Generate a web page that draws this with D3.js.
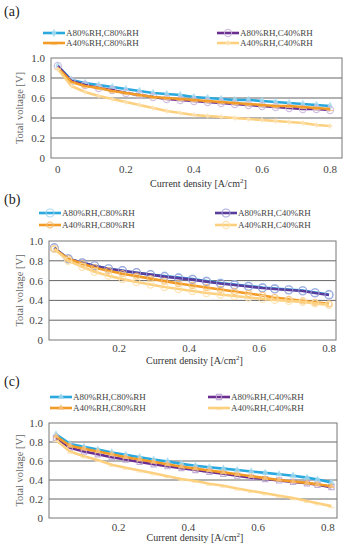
<!DOCTYPE html>
<html>
<head>
<meta charset="utf-8">
<script src="https://cdn.jsdelivr.net/npm/d3@7"></script>
<style>
  body { margin: 0; background: #fff; }
  svg text { font-family: "Liberation Serif", "DejaVu Serif", serif !important; }
</style>
</head>
<body>
<div id="chart"></div>
<script>
// series names (legend order: row1 left, row1 right, row2 left, row2 right)
var seriesNames = ["A80%RH,C80%RH", "A80%RH,C40%RH", "A40%RH,C80%RH", "A40%RH,C40%RH"];
var yTicks = [0, 0.2, 0.4, 0.6, 0.8, 1.0];
var xTicks = [0, 0.2, 0.4, 0.6, 0.8];

// panel (a)
var xA = [0, 0.04, 0.08, 0.12, 0.16, 0.2, 0.24, 0.28, 0.32, 0.36, 0.4, 0.44, 0.48, 0.52, 0.56, 0.6, 0.64, 0.68, 0.72, 0.76, 0.8];
var aBlue = [0.92, 0.78, 0.75, 0.73, 0.71, 0.69, 0.67, 0.65, 0.64, 0.63, 0.61, 0.60, 0.59, 0.58, 0.58, 0.57, 0.56, 0.55, 0.54, 0.53, 0.52];
var aPurple = [0.92, 0.77, 0.73, 0.70, 0.68, 0.65, 0.63, 0.61, 0.59, 0.58, 0.57, 0.56, 0.55, 0.54, 0.53, 0.52, 0.51, 0.50, 0.49, 0.49, 0.48];
var aOrange = [0.90, 0.76, 0.72, 0.70, 0.67, 0.65, 0.63, 0.61, 0.60, 0.59, 0.58, 0.57, 0.56, 0.55, 0.54, 0.53, 0.52, 0.52, 0.51, 0.50, 0.49];
var aYellow = [0.89, 0.72, 0.66, 0.62, 0.59, 0.56, 0.53, 0.50, 0.47, 0.45, 0.43, 0.42, 0.41, 0.40, 0.39, 0.38, 0.37, 0.36, 0.35, 0.33, 0.32];

// panel (b)
var xB = [0.015, 0.055, 0.095, 0.13, 0.17, 0.21, 0.25, 0.29, 0.33, 0.37, 0.41, 0.45, 0.49, 0.53, 0.57, 0.61, 0.645, 0.685, 0.725, 0.76, 0.80];
var bBlue = [0.93, 0.82, 0.78, 0.75, 0.72, 0.70, 0.68, 0.66, 0.645, 0.63, 0.615, 0.595, 0.575, 0.56, 0.545, 0.53, 0.52, 0.51, 0.50, 0.48, 0.46];
var bPurple = [0.93, 0.82, 0.78, 0.75, 0.72, 0.70, 0.68, 0.66, 0.64, 0.625, 0.61, 0.59, 0.57, 0.555, 0.54, 0.525, 0.515, 0.505, 0.495, 0.475, 0.455];
var bOrange = [0.92, 0.82, 0.77, 0.73, 0.70, 0.67, 0.645, 0.62, 0.595, 0.57, 0.55, 0.53, 0.51, 0.49, 0.47, 0.45, 0.43, 0.41, 0.395, 0.38, 0.365];
var bYellow = [0.92, 0.80, 0.74, 0.69, 0.65, 0.615, 0.585, 0.56, 0.535, 0.515, 0.495, 0.475, 0.46, 0.445, 0.43, 0.415, 0.405, 0.395, 0.385, 0.37, 0.355];

// panel (c)
var xC = [0.02, 0.06, 0.10, 0.14, 0.18, 0.22, 0.26, 0.30, 0.34, 0.38, 0.42, 0.46, 0.50, 0.54, 0.58, 0.62, 0.66, 0.70, 0.74, 0.77, 0.81];
var cBlue = [0.88, 0.78, 0.75, 0.72, 0.69, 0.665, 0.64, 0.615, 0.595, 0.57, 0.55, 0.535, 0.52, 0.505, 0.49, 0.475, 0.46, 0.445, 0.425, 0.405, 0.375];
var cPurple = [0.84, 0.74, 0.70, 0.67, 0.64, 0.615, 0.59, 0.565, 0.545, 0.525, 0.505, 0.485, 0.465, 0.445, 0.425, 0.41, 0.395, 0.38, 0.365, 0.35, 0.325];
var cOrange = [0.86, 0.76, 0.73, 0.70, 0.67, 0.64, 0.615, 0.59, 0.565, 0.54, 0.52, 0.50, 0.48, 0.46, 0.44, 0.42, 0.40, 0.385, 0.37, 0.355, 0.335];
var cYellow = [0.82, 0.70, 0.65, 0.61, 0.56, 0.53, 0.50, 0.47, 0.44, 0.41, 0.39, 0.36, 0.34, 0.31, 0.285, 0.26, 0.235, 0.21, 0.18, 0.155, 0.125];

var FONT = "Liberation Serif, DejaVu Serif, serif";

var svg = d3.select("#chart").append("svg")
    .attr("width", 345)
    .attr("height", 550)
    .attr("font-family", FONT);

svg.append("rect").attr("width", 345).attr("height", 550).attr("fill", "#fff");

// line colours
var colBlue = "#2aa9de", colOrange = "#f29b26", colYellow = "#fcd07e";

var panels = [
    {
        label: "(a)", labelY: 16,
        x: xA, series: [aBlue, aPurple, aOrange, aYellow],
        colors: [colBlue, "#6b2d90", colOrange, colYellow],
        markers: [
            {type: d3.symbolDiamond, size: 22, fill: "#a6dcf2", stroke: "none"},
            {type: d3.symbolCircle, size: 40, fill: "none", stroke: "#c9b6dd"},
            {type: "dash", size: 6, fill: "none", stroke: "#f7c27a"},
            {type: d3.symbolCross, size: 14, fill: "#fde3b4", stroke: "none"}
        ],
        box: {left: 51, right: 342, top: 58, bottom: 158},
        xDomain: [-0.02, 0.835], xZero: true,
        legendY: [33, 43], legendX: [43, 217],
        xLabelY: 173, xTitleY: 187
    },
    {
        label: "(b)", labelY: 204,
        x: xB, series: [bBlue, bPurple, bOrange, bYellow],
        colors: [colBlue, "#5a3c9c", colOrange, colYellow],
        markers: [
            {type: d3.symbolCircle, size: 50, fill: "none", stroke: "#9fd2ee"},
            {type: d3.symbolCircle, size: 50, fill: "none", stroke: "#9c9cd8"},
            {type: d3.symbolCircle, size: 30, fill: "none", stroke: "#f5bf78"},
            {type: d3.symbolCircle, size: 40, fill: "none", stroke: "#fde0a8"}
        ],
        box: {left: 49, right: 336, top: 241, bottom: 340},
        xDomain: [0, 0.82], xZero: false,
        legendY: [213, 225], legendX: [39, 215],
        xLabelY: 352, xTitleY: 364
    },
    {
        label: "(c)", labelY: 386,
        x: xC, series: [cBlue, cPurple, cOrange, cYellow],
        colors: [colBlue, "#6b2d90", colOrange, colYellow],
        markers: [
            {type: d3.symbolTriangle, size: 22, fill: "#9fd8ef", stroke: "none"},
            {type: d3.symbolSquare, size: 26, fill: "none", stroke: "#b9a2cf"},
            {type: d3.symbolTriangle, size: 18, fill: "#f7c07a", stroke: "none"},
            {type: "dash", size: 6, fill: "none", stroke: "#fde2b0"}
        ],
        box: {left: 49, right: 337, top: 423, bottom: 518},
        xDomain: [0, 0.826], xZero: false,
        legendY: [397, 408], legendX: [50, 208],
        xLabelY: 531, xTitleY: 541
    }
];

// draw order on the plot: blue, purple, orange, yellow
panels.forEach(function(p) {
    var b = p.box;
    var x = d3.scaleLinear().domain(p.xDomain).range([b.left, b.right]);
    var y = d3.scaleLinear().domain([0, 1]).range([b.bottom, b.top]);
    var g = svg.append("g");

    // panel label
    g.append("text")
        .attr("x", 4).attr("y", p.labelY)
        .attr("font-size", 14).attr("fill", "#222")
        .text(p.label);

    // horizontal grid lines
    g.append("g")
        .selectAll("line")
        .data(yTicks.filter(function(t) { return t > 0 && t < 1; }))
        .enter().append("line")
        .attr("x1", b.left).attr("x2", b.right)
        .attr("y1", function(d) { return y(d); })
        .attr("y2", function(d) { return y(d); })
        .attr("stroke", "#555").attr("stroke-width", 0.9);

    // plot border
    g.append("rect")
        .attr("x", b.left).attr("y", b.top)
        .attr("width", b.right - b.left).attr("height", b.bottom - b.top)
        .attr("fill", "none").attr("stroke", "#777").attr("stroke-width", 1);

    // y axis tick labels
    var yAxis = d3.axisLeft(y)
        .tickValues(yTicks)
        .tickSize(0)
        .tickPadding(6)
        .tickFormat(function(d) { return d === 0 ? "0" : d3.format(".1f")(d); });
    var ya = g.append("g")
        .attr("transform", "translate(" + b.left + ",0)")
        .call(yAxis)
        .attr("font-family", FONT)
        .attr("font-size", 11);
    ya.select(".domain").remove();
    ya.selectAll("text").attr("fill", "#444");

    // x axis tick labels
    var xt = p.xZero ? xTicks : xTicks.filter(function(t) { return t > 0; });
    g.append("g")
        .selectAll("text")
        .data(xt)
        .enter().append("text")
        .attr("x", function(d) { return x(d); })
        .attr("y", p.xLabelY)
        .attr("text-anchor", "middle")
        .attr("font-size", 11).attr("fill", "#444")
        .text(function(d) { return d === 0 ? "0" : d3.format(".1f")(d); });

    // axis titles
    var xTitle = g.append("text")
        .attr("x", (b.left + b.right) / 2 + 2)
        .attr("y", p.xTitleY)
        .attr("text-anchor", "middle")
        .attr("font-size", 10).attr("fill", "#333");
    xTitle.append("tspan").text("Current density [A/cm");
    xTitle.append("tspan").attr("font-size", 7).attr("dy", -4).text("2");
    xTitle.append("tspan").attr("dy", 4).text("]");

    g.append("text")
        .attr("transform", "translate(23," + ((b.top + b.bottom) / 2) + ") rotate(-90)")
        .attr("text-anchor", "middle")
        .attr("font-size", 10.5).attr("fill", "#666")
        .text("Total voltage [V]");

    // series
    var line = d3.line()
        .x(function(d) { return x(d[0]); })
        .y(function(d) { return y(d[1]); });

    p.series.forEach(function(vals, i) {
        var pts = p.x.map(function(xv, k) { return [xv, vals[k]]; });
        g.append("path")
            .datum(pts)
            .attr("fill", "none")
            .attr("stroke", p.colors[i])
            .attr("stroke-width", 2.6)
            .attr("stroke-linejoin", "round")
            .attr("d", line);
        drawMarkers(g, pts, p.markers[i], x, y);
    });

    // legend
    var pos = [[0, 0], [1, 0], [0, 1], [1, 1]];
    seriesNames.forEach(function(name, i) {
        var lx = p.legendX[pos[i][0]], ly = p.legendY[pos[i][1]];
        g.append("line")
            .attr("x1", lx).attr("x2", lx + 22)
            .attr("y1", ly).attr("y2", ly)
            .attr("stroke", p.colors[i]).attr("stroke-width", 2.6);
        drawMarkers(g, [[0, 0]], p.markers[i],
            function() { return lx + 11; }, function() { return ly; });
        g.append("text")
            .attr("x", lx + 23).attr("y", ly + 3)
            .attr("font-size", 9).attr("fill", "#444")
            .text(name);
    });
});

function drawMarkers(g, pts, m, x, y) {
    var mg = g.append("g").attr("opacity", 0.85);
    if (m.type === "dash") {
        mg.selectAll("line")
            .data(pts).enter().append("line")
            .attr("x1", function(d) { return x(d[0]) - m.size / 2; })
            .attr("x2", function(d) { return x(d[0]) + m.size / 2; })
            .attr("y1", function(d) { return y(d[1]) + 1.5; })
            .attr("y2", function(d) { return y(d[1]) + 1.5; })
            .attr("stroke", m.stroke).attr("stroke-width", 1.2);
        return;
    }
    var sym = d3.symbol().type(m.type).size(m.size);
    mg.selectAll("path")
        .data(pts).enter().append("path")
        .attr("transform", function(d) { return "translate(" + x(d[0]) + "," + y(d[1]) + ")"; })
        .attr("d", sym)
        .attr("fill", m.fill)
        .attr("stroke", m.stroke)
        .attr("stroke-width", 1.2);
}
</script>
</body>
</html>
